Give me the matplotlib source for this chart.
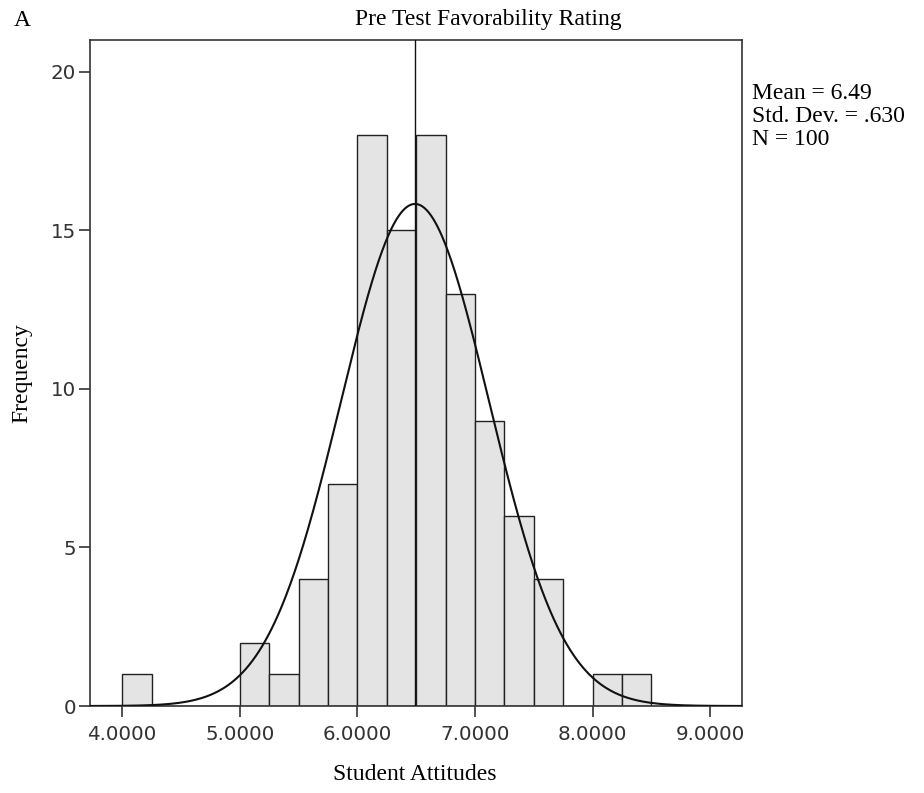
import numpy as np
import matplotlib
matplotlib.use("Agg")
import matplotlib.pyplot as plt

# Data
bin_edges = [4.00, 4.25, 4.50, 4.75, 5.00, 5.25, 5.50, 5.75, 6.00, 6.25,
             6.50, 6.75, 7.00, 7.25, 7.50, 7.75, 8.00, 8.25, 8.50]
counts = [1, 0, 0, 0, 2, 1, 4, 7, 18, 15, 18, 13, 9, 6, 4, 0, 1, 1]
mean_val = 6.49
std_val = 0.630
n_val = 100
x_ticks = [4.0, 5.0, 6.0, 7.0, 8.0, 9.0]
x_tick_labels = ["4.0000", "5.0000", "6.0000", "7.0000", "8.0000", "9.0000"]
y_ticks = [0, 5, 10, 15, 20]
stats_lines = ["Mean = 6.49", "Std. Dev. = .630", "N = 100"]

serif = ["Liberation Serif", "DejaVu Serif"]
sans = ["DejaVu Sans"]
W, H = 924, 793

fig = plt.figure(figsize=(9.24, 7.93), dpi=100)
ax = fig.add_axes([90/W, 1-706/H, (742-90)/W, (706-40)/H])

edges = np.array(bin_edges)
widths = np.diff(edges)
ax.bar(edges[:-1], counts, width=widths, align="edge",
       color="#e4e4e4", edgecolor="#222222", linewidth=1.0, zorder=2)

# normal curve
xs = np.linspace(3.73, 9.27, 600)
bw = widths[0]
ys = n_val * bw * np.exp(-0.5 * ((xs - mean_val) / std_val) ** 2) / (std_val * np.sqrt(2 * np.pi))
ax.plot(xs, ys, color="#111111", linewidth=1.5, zorder=3)
ax.axvline(mean_val, color="#111111", linewidth=1.0, zorder=4)

ax.set_xlim(3.727, 9.27)
ax.set_ylim(0, 21)
ax.set_xticks(x_ticks)
ax.set_xticklabels(x_tick_labels)
ax.set_yticks(y_ticks)
ax.tick_params(axis="x", direction="out", length=8, width=1.2, color="#333333",
               labelsize=14.3, pad=6)
ax.tick_params(axis="y", direction="out", length=8, width=1.2, color="#333333",
               labelsize=14.3, pad=2)
for lab in ax.get_xticklabels() + ax.get_yticklabels():
    lab.set_family(sans)
    lab.set_color("#333333")
for sp in ax.spines.values():
    sp.set_linewidth(1.2)
    sp.set_color("#333333")

fs = 17
fig.text(415/W, 1-775/H, "Student Attitudes", family=serif, fontsize=fs,
         ha="center", va="center")
fig.text(22/W, 1-373/H, "Frequency", family=serif, fontsize=fs,
         ha="center", va="center", rotation=90)
fig.text(488/W, 1-20/H, "Pre Test Favorability Rating", family=serif,
         fontsize=fs, ha="center", va="center")
fig.text(22/W, 1-20/H, "A", family=serif, fontsize=fs, ha="center", va="center")
for i, line in enumerate(stats_lines):
    fig.text(752/W, 1-(99 + 23*i)/H, line, family=serif, fontsize=fs,
             ha="left", va="baseline")

fig.savefig("out.png", dpi=100)
